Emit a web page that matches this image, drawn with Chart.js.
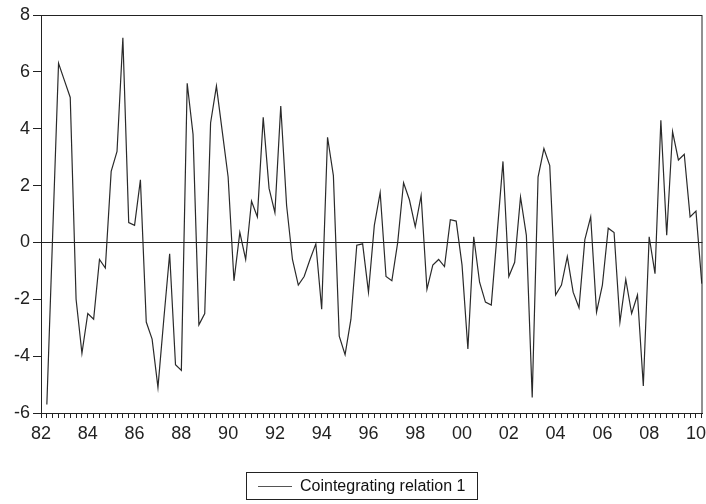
<!DOCTYPE html>
<html>
<head>
<meta charset="utf-8">
<script src="https://cdn.jsdelivr.net/npm/chart.js@4.4.1/dist/chart.umd.min.js"></script>
<style>
  body { margin: 0; background: #fff; }
  #wrap { position: relative; width: 706px; height: 504px; }
  #legend {
    position: absolute; left: 246px; top: 472px; width: 232px; height: 28px;
    border: 1px solid #222; box-sizing: border-box;
    font: 16px "Liberation Sans", Arial, sans-serif; color: #111;
    display: flex; align-items: center;
  }
  #legend .swatch { width: 34px; height: 0; border-top: 1px solid #555; margin: 0 8px 0 11px; }
</style>
</head>
<body>
<div id="wrap">
  <canvas id="cointChart"></canvas>
  <div id="legend"><span class="swatch"></span><span>Cointegrating relation 1</span></div>
</div>
<script>
// quarterly series, 1982Q2 .. 2010Q2
const startYear = 1982;
const endYear = 2010;
const firstObs = 1982.25;
const seriesLabel = "Cointegrating relation 1";
const cointValues = [
  -5.7, 0.3, 6.3, 5.7, 5.1, -2.0, -3.9, -2.5, -2.7, -0.6,
  -0.9, 2.5, 3.2, 7.2, 0.7, 0.6, 2.2, -2.8, -3.4, -5.1,
  -2.7, -0.4, -4.3, -4.5, 5.6, 3.8, -2.9, -2.5, 4.2, 5.5,
  3.9, 2.3, -1.35, 0.35, -0.6, 1.45, 0.9, 4.4, 1.9, 1.05,
  4.8, 1.3, -0.6, -1.5, -1.2, -0.6, -0.05, -2.35, 3.7, 2.35,
  -3.3, -3.95, -2.7, -0.1, -0.05, -1.75, 0.6, 1.75, -1.2, -1.35,
  0.0, 2.1, 1.5, 0.55, 1.65, -1.65, -0.8, -0.6, -0.85, 0.8,
  0.75, -0.8, -3.75, 0.2, -1.4, -2.1, -2.2, 0.3, 2.85, -1.2,
  -0.7, 1.6, 0.25, -5.45, 2.3, 3.3, 2.7, -1.85, -1.5, -0.5,
  -1.75, -2.3, 0.1, 0.9, -2.45, -1.5, 0.5, 0.35, -2.8, -1.3,
  -2.5, -1.85, -5.05, 0.2, -1.1, 4.3, 0.25, 3.9, 2.9, 3.1,
  0.9, 1.1, -1.45
];
const yTicks = [-6, -4, -2, 0, 2, 4, 6, 8];

const points = cointValues.map((v, i) => ({ x: firstObs + i / 4, y: v }));

const frame = {
  id: "frame",
  afterDraw(chart) {
    const { ctx, chartArea: a } = chart;
    ctx.save();
    ctx.strokeStyle = "#222";
    ctx.lineWidth = 1;
    ctx.strokeRect(a.left + 0.5, a.top + 0.5, a.right - a.left - 1, a.bottom - a.top);
    ctx.restore();
  },
};

Chart.defaults.font.family = '"Liberation Sans", Arial, sans-serif';
Chart.defaults.color = "#222";

const ctx = document.getElementById("cointChart").getContext("2d");
const chart = new Chart(ctx, {
  type: "line",
  data: {
    datasets: [{
      label: seriesLabel,
      data: points,
      borderColor: "#2a2a2a",
      borderWidth: 1.2,
      pointRadius: 0,
      tension: 0,
    }],
  },
  options: {
    responsive: true,
    maintainAspectRatio: false,
    animation: false,
    layout: { padding: { top: 15, right: 3.5, bottom: 61, left: 0 } },
    plugins: { legend: { display: false }, tooltip: { enabled: false } },
    scales: {
      x: {
        type: "linear",
        min: startYear,
        max: endYear + 0.28,
        afterBuildTicks(scale) {
          const t = [];
          for (let q = 0; q <= (endYear - startYear) * 4 + 1; q++) t.push({ value: startYear + q / 4 });
          scale.ticks = t;
        },
        afterFit(scale) {
          scale.height = 30;
          scale.paddingLeft = 0;
          scale.paddingRight = 0;
        },
        ticks: {
          autoSkip: false,
          maxRotation: 0,
          padding: 5,
          font: { size: 18 },
          callback: (v) => (Number.isInteger(v) && v % 2 === 0 ? String(v % 100).padStart(2, "0") : ""),
        },
        grid: { drawOnChartArea: false, tickLength: 5, color: "#222" },
        border: { color: "#222" },
      },
      y: {
        min: -6,
        max: 8,
        afterBuildTicks(scale) { scale.ticks = yTicks.map((v) => ({ value: v })); },
        afterFit(scale) { scale.width = 41; },
        ticks: { font: { size: 18 }, padding: 3 },
        grid: {
          tickLength: 8,
          tickColor: "#222",
          color: (c) => (c.tick && c.tick.value === 0 ? "#222" : "rgba(0,0,0,0)"),
        },
        border: { color: "#222" },
      },
    },
  },
  plugins: [frame],
});
</script>
</body>
</html>
